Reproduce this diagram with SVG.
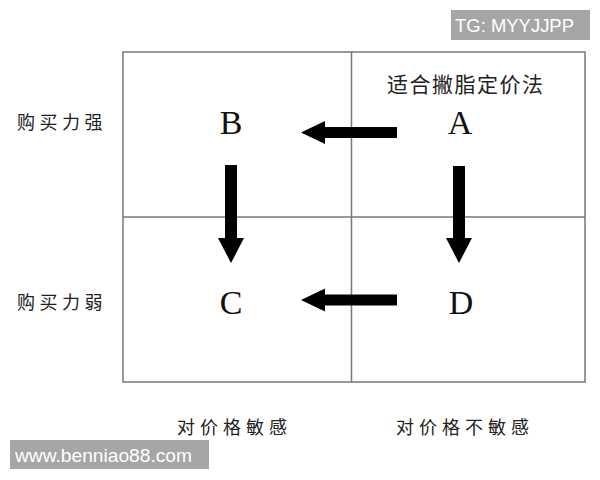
<svg xmlns="http://www.w3.org/2000/svg" width="600" height="480" viewBox="0 0 600 480">
<style>
.grid{fill:none;stroke:#777;stroke-width:1.5}
.letter{font-family:"Liberation Serif","Times New Roman",serif;font-size:34px;fill:#111;text-anchor:middle}
.cjk{font-family:"Noto Sans CJK SC","Noto Sans",sans-serif;fill:#222}
.axis{font-size:18px}
.arrow{fill:#000}
.wm{fill:#a6a6a6}
.wmt{font-family:"Liberation Sans",Arial,sans-serif;fill:#fff}
</style>
<rect width="600" height="480" fill="#fff"/>
<g id="grid">
<rect class="grid" x="123" y="52" width="462" height="330"/>
<line class="grid" x1="351.5" y1="52" x2="351.5" y2="382"/>
<line class="grid" x1="123" y1="217" x2="585" y2="217"/>
</g>
<g id="node-A"><text class="letter" x="460" y="134">A</text></g>
<g id="node-B"><text class="letter" x="231" y="134">B</text></g>
<g id="node-C"><text class="letter" x="231" y="314">C</text></g>
<g id="node-D"><text class="letter" x="461" y="314">D</text></g>
<g id="connectors">
<polygon class="arrow" points="397,127 325,127 325,121 301,132.5 325,144 325,138 397,138"/>
<polygon class="arrow" points="397,294.5 325,294.5 325,288.5 301,300 325,311.5 325,305.5 397,305.5"/>
<polygon class="arrow" points="225,165 237,165 237,238 244,238 231,263 218,238 225,238"/>
<polygon class="arrow" points="453,166 465,166 465,238 472,238 459,263 446,238 453,238"/>
</g>
<g id="labels">
<text class="cjk" x="387" y="92" font-size="21" letter-spacing="1.5">适合撇脂定价法</text>
<text class="cjk axis" x="17" y="129" letter-spacing="4.5">购买力强</text>
<text class="cjk axis" x="17" y="309" letter-spacing="4.5">购买力弱</text>
<text class="cjk axis" x="177" y="434" letter-spacing="5">对价格敏感</text>
<text class="cjk axis" x="396" y="434" letter-spacing="5">对价格不敏感</text>
</g>
<g id="watermarks">
<rect class="wm" x="451" y="10" width="139" height="30"/>
<text class="wmt" x="455" y="32.3" font-size="17.5" textLength="119" lengthAdjust="spacingAndGlyphs">TG: MYYJJPP</text>
<rect class="wm" x="10" y="440" width="199" height="29"/>
<text class="wmt" x="15" y="461.7" font-size="18.5" textLength="177" lengthAdjust="spacingAndGlyphs">www.benniao88.com</text>
</g>
</svg>
